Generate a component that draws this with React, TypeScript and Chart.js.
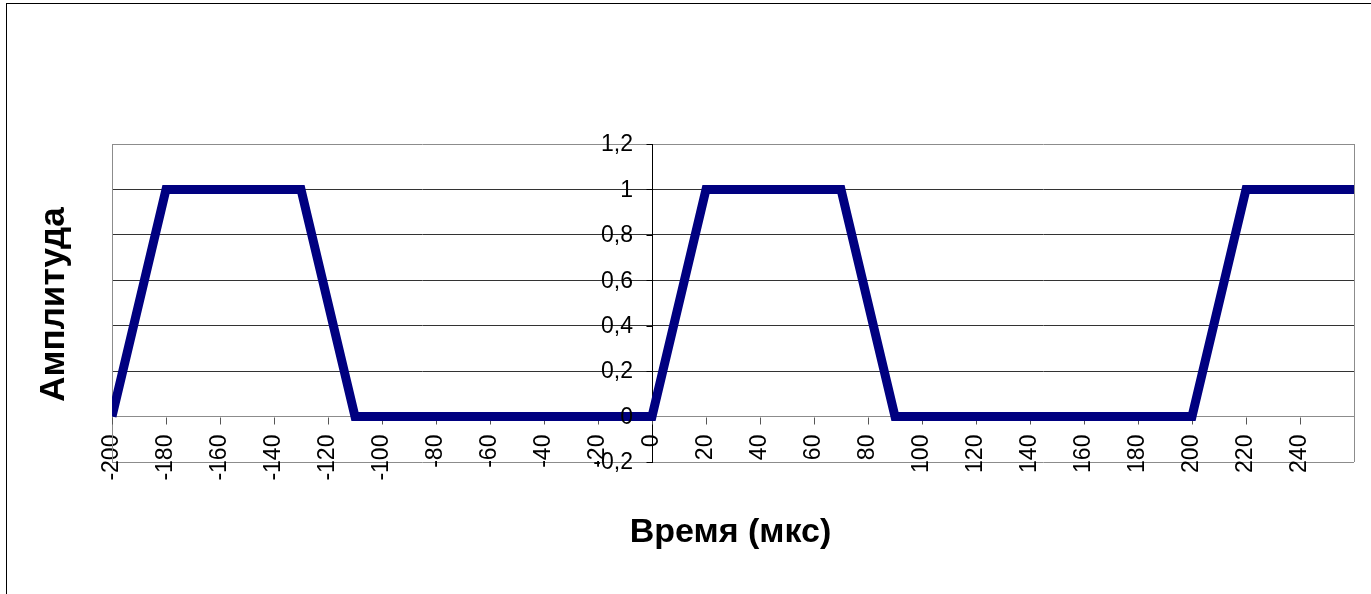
import React, { useEffect, useRef } from "react";
import { Chart, registerables } from "chart.js";

Chart.register(...registerables);

// Data (time in µs, amplitude)
const timeValues = [-200, -180, -130, -110, 0, 20, 70, 90, 200, 220, 260];
const amplitudeValues = [0, 1, 1, 0, 0, 1, 1, 0, 0, 1, 1];
const xTickValues = [-200, -180, -160, -140, -120, -100, -80, -60, -40, -20, 0, 20, 40, 60, 80, 100, 120, 140, 160, 180, 200, 220, 240];
const yTickValues = [-0.2, 0, 0.2, 0.4, 0.6, 0.8, 1, 1.2];
const xTitle = "Время (мкс)";
const yTitle = "Амплитуда";

const FONT = '"Liberation Sans", Arial, sans-serif';

const fmt = (v: number) => String(Math.round(v * 10) / 10).replace(".", ",");

export default function App() {
  const ref = useRef<HTMLCanvasElement | null>(null);

  useEffect(() => {
    if (!ref.current) return;
    const framePlugin = {
      id: "frameAndTitles",
      beforeDatasetsDraw(chart: any) {
        const { ctx, chartArea: a } = chart;
        ctx.save();
        ctx.strokeStyle = "#8c8c8c";
        ctx.lineWidth = 1;
        ctx.beginPath();
        ctx.moveTo(Math.round(a.left) + 0.5, a.top);
        ctx.lineTo(Math.round(a.left) + 0.5, a.bottom);
        ctx.moveTo(Math.round(a.right) + 0.5, a.top);
        ctx.lineTo(Math.round(a.right) + 0.5, a.bottom);
        ctx.stroke();

        // short tick marks on the crossing axes
        const xs = chart.scales.x;
        const ys = chart.scales.y;
        const axisX = Math.round(xs.getPixelForValue(0)) + 0.5;
        const axisY = Math.round(ys.getPixelForValue(0)) + 0.5;
        ctx.strokeStyle = "#000";
        ctx.beginPath();
        yTickValues.forEach((v) => {
          const py = Math.round(ys.getPixelForValue(v)) + 0.5;
          ctx.moveTo(axisX - 6, py);
          ctx.lineTo(axisX, py);
        });
        ctx.stroke();
        ctx.strokeStyle = "#555";
        ctx.beginPath();
        xTickValues.forEach((v) => {
          const px = Math.round(xs.getPixelForValue(v)) + 0.5;
          ctx.moveTo(px, axisY);
          ctx.lineTo(px, axisY + 7);
        });
        ctx.stroke();
        ctx.restore();
      },
      afterDraw(chart: any) {
        const { ctx, chartArea: a } = chart;
        const xs = chart.scales.x;
        const ys = chart.scales.y;
        ctx.save();
        // y tick labels (left of the crossing y axis)
        const axisX = xs.getPixelForValue(0);
        ctx.fillStyle = "#000";
        ctx.font = `23px ${FONT}`;
        ctx.textAlign = "right";
        ctx.textBaseline = "middle";
        yTickValues.forEach((v) => {
          ctx.fillText(fmt(v), axisX - 19, ys.getPixelForValue(v) + 1);
        });

        ctx.font = `bold 34px ${FONT}`;
        ctx.textAlign = "center";
        ctx.textBaseline = "alphabetic";
        ctx.fillText(xTitle, (a.left + a.right) / 2 - 2.5, a.bottom + 80);
        ctx.font = `bold 35px ${FONT}`;
        ctx.translate(a.left - 48, (a.top + a.bottom) / 2 + 1.5);
        ctx.rotate(-Math.PI / 2);
        ctx.fillText(yTitle, 0, 0);
        ctx.restore();
      },
    };

    const chart = new Chart(ref.current, {
      type: "line",
      data: {
        datasets: [
          {
            data: timeValues.map((t, i) => ({ x: t, y: amplitudeValues[i] })),
            borderColor: "#000080",
            backgroundColor: "#000080",
            borderWidth: 9,
            pointRadius: 0,
            tension: 0,
            borderJoinStyle: "miter",
            borderCapStyle: "butt",
          },
        ],
      },
      options: {
        responsive: false,
        animation: false,
        layout: { padding: { left: 112, right: 17, top: 144, bottom: 132 } },
        plugins: { legend: { display: false }, tooltip: { enabled: false } },
        scales: {
          x: {
            type: "linear",
            position: { y: 0 },
            min: -200,
            max: 260,
            afterBuildTicks: (scale: any) => {
              scale.ticks = xTickValues.map((v) => ({ value: v }));
            },
            ticks: {
              autoSkip: false,
              minRotation: 90,
              maxRotation: 90,
              color: "#000",
              font: { family: FONT, size: 23 },
              callback: (v: any) => String(v),
            },
            grid: {
              drawOnChartArea: false,
              drawTicks: true,
              tickLength: 15,
              tickColor: "rgba(0,0,0,0)",
            },
            border: { display: true, color: "#8c8c8c", width: 1 },
          },
          y: {
            type: "linear",
            position: { x: 0 },
            min: -0.2,
            max: 1.2,
            afterBuildTicks: (scale: any) => {
              scale.ticks = yTickValues.map((v) => ({ value: v }));
            },
            ticks: { display: false },
            grid: {
              drawOnChartArea: true,
              drawTicks: false,
              color: (ctx: any) => {
                const v = ctx.tick ? Math.round(ctx.tick.value * 10) / 10 : 0;
                return v === -0.2 || v === 1.2 || v === 0 ? "#8c8c8c" : "#333";
              },
            },
            border: { display: true, color: "#000", width: 1 },
          },
        },
      },
      plugins: [framePlugin],
    });
    return () => chart.destroy();
  }, []);

  return (
    <div style={{ position: "absolute", left: 0, top: 0, width: 1371, height: 594, background: "#fff", overflow: "hidden" }}>
      <div
        style={{
          position: "absolute",
          left: 6,
          top: 3,
          width: 1400,
          height: 600,
          borderTop: "1px solid #000",
          borderLeft: "1px solid #000",
        }}
      />
      <canvas ref={ref} width={1371} height={594} style={{ position: "absolute", left: 0, top: 0 }} />
    </div>
  );
}
